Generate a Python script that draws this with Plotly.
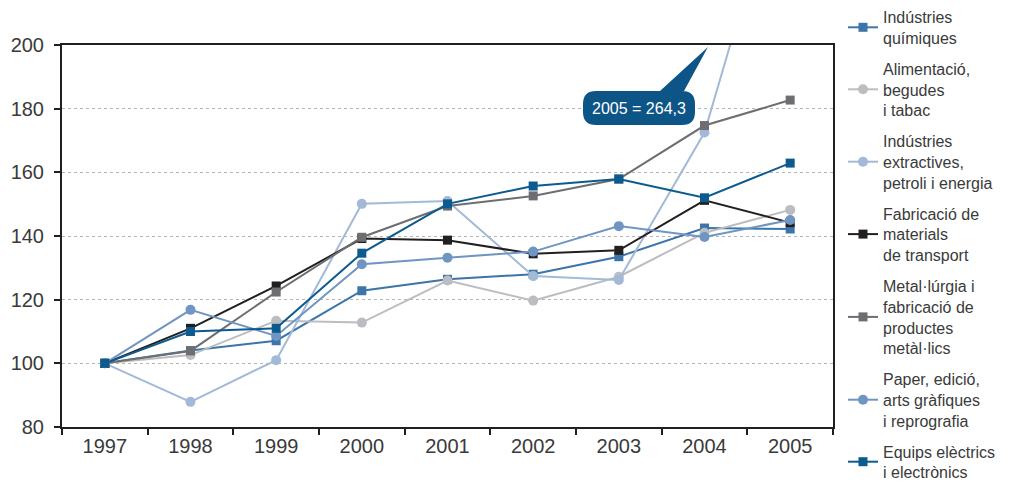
import plotly.graph_objects as go

years = ["1997", "1998", "1999", "2000", "2001", "2002", "2003", "2004", "2005"]
quimiques = [100, 104.0, 107.1, 122.8, 126.4, 128.0, 133.5, 142.5, 142.2]
alimentacio = [100, 102.6, 113.4, 112.8, 126.0, 119.7, 127.2, 141.0, 148.2]
extractives = [100, 87.9, 101.0, 150.1, 151.0, 127.4, 126.2, 172.5, 264.3]
transport = [100, 111.0, 124.3, 139.2, 138.7, 134.4, 135.5, 151.2, 144.2]
metal = [100, 103.9, 122.4, 139.6, 149.4, 152.6, 157.9, 174.7, 182.7]
paper = [100, 116.8, 108.6, 131.1, 133.2, 135.1, 143.1, 139.7, 145.0]
equips = [100, 110.0, 111.0, 134.6, 150.1, 155.7, 157.9, 152.0, 162.9]

names = [
    "Indústries<br>químiques",
    "Alimentació,<br>begudes<br>i tabac",
    "Indústries<br>extractives,<br>petroli i energia",
    "Fabricació de<br>materials<br>de transport",
    "Metal·lúrgia i<br>fabricació de<br>productes<br>metàl·lics",
    "Paper, edició,<br>arts gràfiques<br>i reprografia",
    "Equips elèctrics<br>i electrònics",
]
series = [quimiques, alimentacio, extractives, transport, metal, paper, equips]
colors = ["#3b75a9", "#bcbdc0", "#a3b9d8", "#231f20", "#6d6e71", "#7095c2", "#0d5a8f"]
symbols = ["square", "circle", "circle", "square", "square", "circle", "square"]
annotation_text = "2005 = 264,3"

fig = go.Figure()
for i, (nm, vals, c, s) in enumerate(zip(names, series, colors, symbols)):
    fig.add_trace(go.Scatter(
        x=years, y=vals, name=nm, mode="lines+markers",
        line=dict(color=c, width=2),
        marker=dict(symbol=s, color=c, size=9 if s == "square" else 10),
        legendgroup=f"g{i}",
    ))

# page body has an 8px margin; compensate
OFF = 8
W, H = 1012 - OFF, 484 - OFF
# plot area in reference pixels
L, R, T, B = 62, 833, 45, 427

def px(x):
    return (x - L) / (R - L)

def py(y):
    return (B - y) / (B - T)

def P(x, y):
    return f"{px(x):.5f},{py(y):.5f}"

# callout path (rounded box + pointer) in paper coords
bx0, bx1, by0, by1, r = 583, 695, 91, 125, 13
path = (
    f"M {P(bx0 + r, by0)} L {P(660, by0)} L {P(708, 47)} L {P(684, by0)} "
    f"L {P(bx1 - r, by0)} Q {P(bx1, by0)} {P(bx1, by0 + r)} "
    f"L {P(bx1, by1 - r)} Q {P(bx1, by1)} {P(bx1 - r, by1)} "
    f"L {P(bx0 + r, by1)} Q {P(bx0, by1)} {P(bx0, by1 - r)} "
    f"L {P(bx0, by0 + r)} Q {P(bx0, by0)} {P(bx0 + r, by0)} Z"
)
fig.add_shape(type="path", path=path, xref="paper", yref="paper",
              fillcolor="#0d5586", line=dict(width=0), layer="above")
fig.add_annotation(x=px(639), y=py(108), xref="paper", yref="paper",
                   xanchor="center", yanchor="middle",
                   text=annotation_text, showarrow=False,
                   font=dict(color="white", size=16, family="Liberation Sans"))

legend = dict(x=px(843), y=py(0), xanchor="left", yanchor="top",
              font=dict(size=16, color="#3a3a3a"),
              tracegroupgap=7, itemwidth=30, bgcolor="rgba(0,0,0,0)")
try:
    go.layout.Legend(maxheight=500)
    legend["maxheight"] = 500
except Exception:
    pass

fig.update_layout(
    width=W, height=H,
    margin=dict(l=L - OFF, r=W - (R - OFF), t=T - OFF, b=H - (B - OFF), autoexpand=False),
    plot_bgcolor="white", paper_bgcolor="white",
    font=dict(family="Liberation Sans", color="#3a3a3a", size=20),
    showlegend=True,
    legend=legend,
    xaxis=dict(type="category", range=[-0.5, 8.5], showline=True, linecolor="#231f20",
               linewidth=2, mirror=True, ticks="outside", tickson="boundaries",
               ticklen=6, tickwidth=2, tickcolor="#231f20", showgrid=False,
               tickfont=dict(size=20), automargin=False),
    yaxis=dict(range=[80, 200], dtick=20, showline=True, linecolor="#231f20",
               linewidth=2, mirror=True, ticks="outside", ticklen=6, tickwidth=2,
               tickcolor="#231f20", showgrid=True, gridcolor="#b5b5b5",
               griddash="dot", gridwidth=1, zeroline=False,
               tickfont=dict(size=20), ticklabelstandoff=6, automargin=False),
)

fig.write_html("out.html")
